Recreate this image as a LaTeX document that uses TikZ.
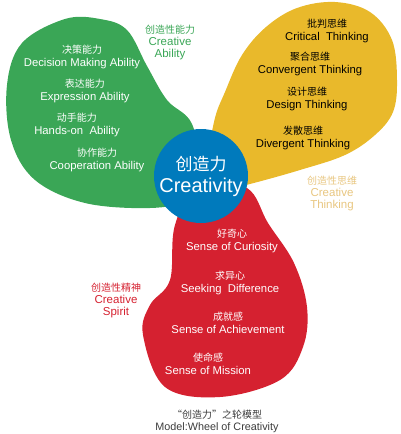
\documentclass[tikz,border=0pt]{standalone}
\usepackage{fontspec}
\setmainfont{Liberation Sans}
\newfontfamily\cjk{Noto Sans CJK SC}
\usetikzlibrary{math}
\definecolor{petalgreen}{RGB}{58,166,86}
\definecolor{petalyellow}{RGB}{233,185,43}
\definecolor{petalred}{RGB}{213,33,48}
\definecolor{hubblue}{RGB}{0,122,188}
\definecolor{tagyellow}{RGB}{232,198,128}
\definecolor{captiongray}{RGB}{60,60,60}
\newcommand{\pair}[2]{{\cjk\fontsize{10}{12}\selectfont #1}\\#2}

\begin{document}
\begin{tikzpicture}[x=1pt,y=-1pt,
  item/.style={align=center, inner sep=0pt, font=\fontsize{11.3}{12.5}\selectfont},
  tag/.style={item, font=\fontsize{11.5}{12}\selectfont}]
\tikzmath{
\cx=201; \cy=176; \r=47;
}
\useasboundingbox (0,0) rectangle (400,434);

% petals
\fill[petalgreen] plot[smooth cycle, tension=0.6] coordinates {
  (200,175) (192,124) (167,100) (147,66) (127,30) (100,19) (65,19) (22,43)
  (7,85) (11,140) (35,180) (85,203) (150,208) (185,200)};
\fill[petalyellow] plot[smooth cycle, tension=0.6] coordinates {
  (205,180) (214,122) (225,92) (242,55) (266,27) (297,8) (335,2) (370,12)
  (392,40) (397,80) (393,112) (375,135) (345,155) (300,170) (250,184) (215,192)};
\fill[petalred] plot[smooth cycle, tension=0.6] coordinates {
  (200,180) (247,188) (268,223) (294,263) (307,307) (303,347) (280,380)
  (220,397) (165,387) (143,335) (150,305) (170,280) (175,225)};

% hub
\fill[hubblue] (\cx,\cy) circle (\r);
\node[align=center, text=white, inner sep=0pt,
  font=\fontsize{20}{22}\selectfont] (hub) at (\cx,\cy) {{\cjk\fontsize{17}{22}\selectfont 创造力}\\Creativity};

% ability
\node[item, text=white] (decision) at (82,57) {\pair{决策能力}{Decision Making Ability}};
\node[item, text=white] (expression) at (85,91) {\pair{表达能力}{Expression Ability}};
\node[item, text=white] (hands) at (77,125) {\pair{动手能力}{Hands-on\ \ Ability}};
\node[item, text=white] (cooperation) at (97,160) {\pair{协作能力}{Cooperation Ability}};
\node[tag, text=petalgreen] (ability) at (170,42) {\pair{创造性能力}{Creative\\Ability}};

% thinking
\node[item, text=black] (critical) at (327,31) {\pair{批判思维}{Critical\ \ Thinking}};
\node[item, text=black] (convergent) at (310,64) {\pair{聚合思维}{Convergent Thinking}};
\node[item, text=black] (design) at (307,99) {\pair{设计思维}{Design Thinking}};
\node[item, text=black] (divergent) at (303,138) {\pair{发散思维}{Divergent Thinking}};
\node[tag, text=tagyellow] (thinking) at (332,193) {\pair{创造性思维}{Creative\\Thinking}};

% spirit
\node[item, text=white] (curiosity) at (232,241) {\pair{好奇心}{Sense of Curiosity}};
\node[item, text=white] (difference) at (230,283) {\pair{求异心}{Seeking\ \ Difference}};
\node[item, text=white] (achievement) at (228,323) {\pair{成就感}{Sense of Achievement}};
\node[item, text=white] (mission) at (208,364) {\pair{使命感}{Sense of Mission}};
\node[tag, text=petalred] (spirit) at (116,300) {\pair{创造性精神}{Creative\\Spirit}};

% caption
\node[item, text=captiongray, font=\fontsize{10.8}{12}\selectfont] (caption) at (217,421) {\pair{“创造力”之轮模型}{Model:Wheel of Creativity}};
\end{tikzpicture}
\end{document}
